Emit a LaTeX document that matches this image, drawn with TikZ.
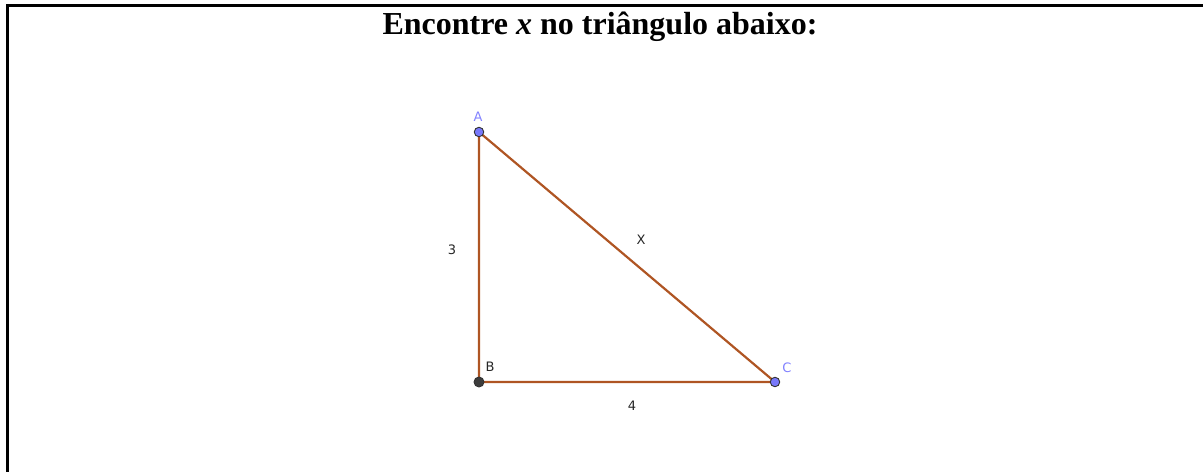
\documentclass[tikz,border=0pt]{standalone}
\usepackage{fontspec}
\setmainfont{Liberation Serif}
\newfontfamily\ggfont{DejaVu Sans}
\definecolor{seg}{RGB}{175,85,35}
\definecolor{ptblue}{RGB}{120,120,250}
\definecolor{ptdark}{RGB}{60,60,60}
\definecolor{lbl}{RGB}{130,130,255}
\tikzset{
  seg/.style={draw=seg, line width=2.2pt},
  pt/.style={circle, draw=black!80, line width=0.9pt, fill=ptblue, minimum size=9.5pt, inner sep=0pt},
  ptb/.style={circle, draw=black!80, line width=0.9pt, fill=ptdark, minimum size=10pt, inner sep=0pt},
  plbl/.style={font=\ggfont\fontsize{13}{14}\selectfont, text=lbl, inner sep=0pt},
  nlbl/.style={font=\ggfont\fontsize{13}{14}\selectfont, text=black!85, inner sep=0pt},
  frame/.style={draw=black, line width=3pt}
}
\begin{document}
\begin{tikzpicture}[x=1pt,y=-1pt]
\useasboundingbox (0,0) rectangle (1203,472);
\draw[frame] (1203,5.5) -- (7,5.5) -- (7,472);
\node[font=\bfseries\fontsize{32}{35}\selectfont, anchor=base, inner sep=0pt] (title) at (600,34) {Encontre \textit{x} no triângulo abaixo:};
\coordinate (A0) at (479,132);
\coordinate (B0) at (479,382);
\coordinate (C0) at (775,382);
\draw[seg] (A0) -- (B0) -- (C0) -- cycle;
\node[pt] (A) at (A0) {};
\node[ptb] (B) at (B0) {};
\node[pt] (C) at (C0) {};
\node[plbl] (la) at (478,117) {A};
\node[nlbl] (lb) at (490,367) {B};
\node[plbl] (lc) at (787,368) {C};
\node[nlbl] (l3) at (452,250) {3};
\node[nlbl] (lx) at (641,240) {X};
\node[nlbl] (l4) at (632,406) {4};
\end{tikzpicture}
\end{document}
